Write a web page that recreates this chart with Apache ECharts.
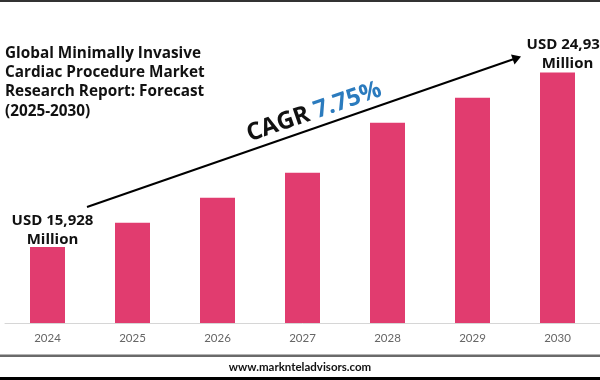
<!DOCTYPE html>
<html>
<head>
<meta charset="utf-8">
<script src="https://cdn.jsdelivr.net/npm/echarts@6/dist/echarts.min.js"></script>
<style>html,body{margin:0;padding:0;background:#fff}#c{width:600px;height:380px}</style>
</head>
<body>
<div id="c"></div>
<script>
const categories = ['2024','2025','2026','2027','2028','2029','2030'];
const values = [15928, 17173, 18467, 19760, 22347, 23640, 24936];
const titleLines = ['Global Minimally Invasive','Cardiac Procedure Market','Research Report: Forecast','(2025-2030)'];
const startLabel = ['USD 15,928','Million'];
const endLabel = ['USD 24,936','Million'];
const cagrText = 'CAGR';
const cagrValue = '7.75%';
const footer = 'www.marknteladvisors.com';

const FONT = 'Lato, "Open Sans", sans-serif';
const WFONT = '"Open Sans", Lato, sans-serif';
const chart = echarts.init(document.getElementById('c'));

const ang = Math.atan2(207 - 57, 520 - 87);

const labelCfg = (lines, dx, dy) => ({
  show: true, position: 'top', offset: [dx, dy],
  formatter: lines.join('\n'),
  color: '#111', fontFamily: WFONT, fontWeight: 'bold', fontSize: 15, lineHeight: 19
});

chart.setOption({
  animation: false,
  grid: { left: 5, width: 604, top: 52, bottom: 57 },
  xAxis: {
    type: 'category', data: categories,
    axisLine: { show: true, lineStyle: { color: '#d6d6d6', width: 1 } },
    axisTick: { show: false },
    axisLabel: { color: '#666', fontFamily: FONT, fontSize: 11.5, margin: 9 }
  },
  yAxis: { type: 'value', min: 12000, max: 26000, show: false, splitLine: { show: false } },
  series: [{
    type: 'bar', barWidth: 35,
    itemStyle: { color: '#E13C6F' },
    data: values.map((v, i) => {
      const d = { value: v };
      if (i === 0) d.label = labelCfg(startLabel, 5, 7);
      if (i === values.length - 1) d.label = labelCfg(endLabel, 10, 6);
      return d;
    })
  }],
  graphic: [
    { type: 'rect', shape: { x: 0, y: 0, width: 600, height: 2 }, style: { fill: '#333' } },
    { type: 'rect', shape: { x: 0, y: 354.5, width: 600, height: 2.5 }, style: { fill: '#6a6a6a' } },
    { type: 'rect', shape: { x: 0, y: 377, width: 600, height: 3 }, style: { fill: '#000' } },
    { type: 'text', left: 'center', top: 361, style: { text: footer, fill: '#111', font: 'bold 11.5px ' + FONT } },
    ...titleLines.map((t, i) => ({
      type: 'text', left: 5, top: 46 + i * 19.3,
      style: { text: t, fill: '#111', font: 'bold 15.3px ' + WFONT }
    })),
    { type: 'line', shape: { x1: 87, y1: 207, x2: 514, y2: 59 }, style: { stroke: '#000', lineWidth: 2 } },
    { type: 'polygon', shape: { points: [[521, 56.5], [511, 54.5], [514.5, 64.5]] }, style: { fill: '#000' } },
    {
      type: 'text', x: 314, y: 112, rotation: ang,
      style: {
        text: '{a|' + cagrText + ' }{b|' + cagrValue + '}',
        align: 'center', verticalAlign: 'middle',
        rich: {
          a: { fontFamily: WFONT, fontWeight: 'bold', fontSize: 24, fill: '#111', color: '#111' },
          b: { fontFamily: WFONT, fontWeight: 'bold', fontSize: 24, fill: '#2B7BBE', color: '#2B7BBE' }
        }
      }
    }
  ]
});
</script>
</body>
</html>
